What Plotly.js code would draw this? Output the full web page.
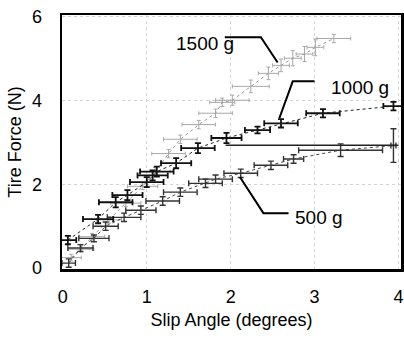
<!DOCTYPE html>
<html>
<head>
<meta charset="utf-8">
<script src="https://cdn.plot.ly/plotly-3.0.1.min.js"></script>
<style>html,body{margin:0;padding:0;background:#fff;}#chart{width:404px;height:343px;}</style>
</head>
<body>
<div id="chart"></div>
<script>
// 1500 g series
const x1500 = [0.10, 0.22, 0.35, 0.55, 0.75, 0.95, 1.10, 1.26, 1.40, 1.62, 1.82, 1.90, 2.02, 2.24, 2.45, 2.60, 2.74, 2.88, 3.01, 3.23];
const y1500 = [0.25, 0.45, 0.75, 1.15, 1.55, 1.95, 2.30, 2.73, 3.07, 3.42, 3.69, 3.95, 4.00, 4.33, 4.64, 4.83, 5.00, 5.10, 5.26, 5.47];
const ex1500 = [0.12, 0.15, 0.15, 0.15, 0.18, 0.18, 0.18, 0.2, 0.2, 0.2, 0.2, 0.15, 0.2, 0.22, 0.12, 0.1, 0.1, 0.1, 0.1, 0.2];
const ey1500 = [0.08, 0.08, 0.08, 0.08, 0.08, 0.08, 0.1, 0.1, 0.1, 0.1, 0.1, 0.1, 0.12, 0.15, 0.15, 0.15, 0.18, 0.18, 0.2, 0.1];
// 1000 g series
const x1000 = [0.06, 0.42, 0.63, 0.77, 1.00, 1.07, 1.12, 1.35, 1.61, 1.95, 2.32, 2.60, 3.10, 3.94];
const y1000 = [0.67, 1.17, 1.57, 1.74, 2.05, 2.21, 2.30, 2.50, 2.86, 3.10, 3.29, 3.45, 3.69, 3.86];
const ex1000 = [0.1, 0.18, 0.2, 0.18, 0.2, 0.18, 0.2, 0.18, 0.2, 0.18, 0.15, 0.2, 0.2, 0.12];
const ey1000 = [0.1, 0.1, 0.12, 0.12, 0.12, 0.12, 0.12, 0.12, 0.12, 0.12, 0.08, 0.1, 0.1, 0.1];
// 500 g series
const x500 = [0.07, 0.21, 0.37, 0.51, 0.73, 0.93, 1.19, 1.40, 1.70, 1.82, 2.12, 2.48, 2.75, 3.31, 3.94];
const y500 = [0.12, 0.48, 0.71, 1.00, 1.21, 1.38, 1.60, 1.81, 2.02, 2.12, 2.26, 2.45, 2.60, 2.81, 2.92];
const ex500 = [0.08, 0.15, 0.18, 0.15, 0.2, 0.18, 0.2, 0.2, 0.2, 0.2, 0.2, 0.2, 0.12, 0.5, 0.03];
const ey500 = [0.1, 0.08, 0.08, 0.1, 0.1, 0.1, 0.1, 0.1, 0.1, 0.1, 0.1, 0.1, 0.1, 0.15, 0.4];
// saturation line
const satX = [1.94, 4.0];
const satY = [2.93, 2.93];
const xTicks = [0, 1, 2, 3, 4];
const yTicks = [0, 2, 4, 6];
const labels = ['1500 g', '1000 g', '500 g'];

function series(x, y, ex, ey, col, ecol, th, w) {
  return {
    x: x, y: y, type: 'scatter', mode: 'lines',
    line: {color: col, width: 1, dash: 'dot'},
    error_x: {type: 'data', array: ex, visible: true, color: ecol, thickness: th, width: w},
    error_y: {type: 'data', array: ey, visible: true, color: ecol, thickness: th, width: w},
    showlegend: false, hoverinfo: 'skip'
  };
}

const data = [
  series(x1500, y1500, ex1500, ey1500, '#9a9a9a', '#a8a8a8', 1, 2),
  series(x500, y500, ex500, ey500, '#444', '#333', 1.4, 3),
  series(x1000, y1000, ex1000, ey1000, '#222', '#111', 1.8, 3),
  {x: satX, y: satY, type: 'scatter', mode: 'lines', line: {color: '#222', width: 1.5}, showlegend: false, hoverinfo: 'skip'}
];

const font = {family: 'Liberation Sans, Arial, sans-serif', size: 18, color: '#000'};

const layout = {
  width: 404, height: 343,
  margin: {l: 62, r: 3, t: 15, b: 74},
  paper_bgcolor: '#fff', plot_bgcolor: '#fff',
  font: font,
  xaxis: {
    range: [-0.01, 4.03], tickvals: xTicks, ticktext: xTicks.map(String),
    showgrid: true, gridcolor: '#d4d4d4', griddash: 'dot', gridwidth: 1,
    zeroline: false, showline: true, mirror: true, linecolor: '#000', linewidth: 2.5,
    ticks: '', ticklabelstandoff: 10,
    title: {text: 'Slip Angle (degrees)', font: font, standoff: 8}
  },
  yaxis: {
    range: [-0.02, 6.03], tickvals: yTicks, ticktext: yTicks.map(String),
    showgrid: true, gridcolor: '#d4d4d4', griddash: 'dot', gridwidth: 1,
    zeroline: false, showline: true, mirror: true, linecolor: '#000', linewidth: 2.5,
    ticks: '', ticklabelstandoff: 14,
    title: {text: 'Tire Force (N)', font: font, standoff: 6}
  },
  annotations: [
    {x: 1.70, y: 5.36, text: labels[0], showarrow: false, font: {family: font.family, size: 19, color: '#000'}},
    {x: 3.54, y: 4.31, text: labels[1], showarrow: false, font: {family: font.family, size: 19, color: '#000'}},
    {x: 3.05, y: 1.21, text: labels[2], showarrow: false, font: {family: font.family, size: 19, color: '#000'}}
  ],
  shapes: [
    {type: 'path', path: 'M 1.93 5.5 L 2.36 5.5 L 2.56 4.9', line: {color: '#000', width: 2}},
    {type: 'path', path: 'M 3.0 4.45 L 2.74 4.45 L 2.58 3.57', line: {color: '#000', width: 2}},
    {type: 'path', path: 'M 2.69 1.31 L 2.39 1.31 L 2.11 2.17', line: {color: '#000', width: 2}}
  ]
};

Plotly.newPlot('chart', data, layout, {staticPlot: true, displayModeBar: false});
</script>
</body>
</html>
